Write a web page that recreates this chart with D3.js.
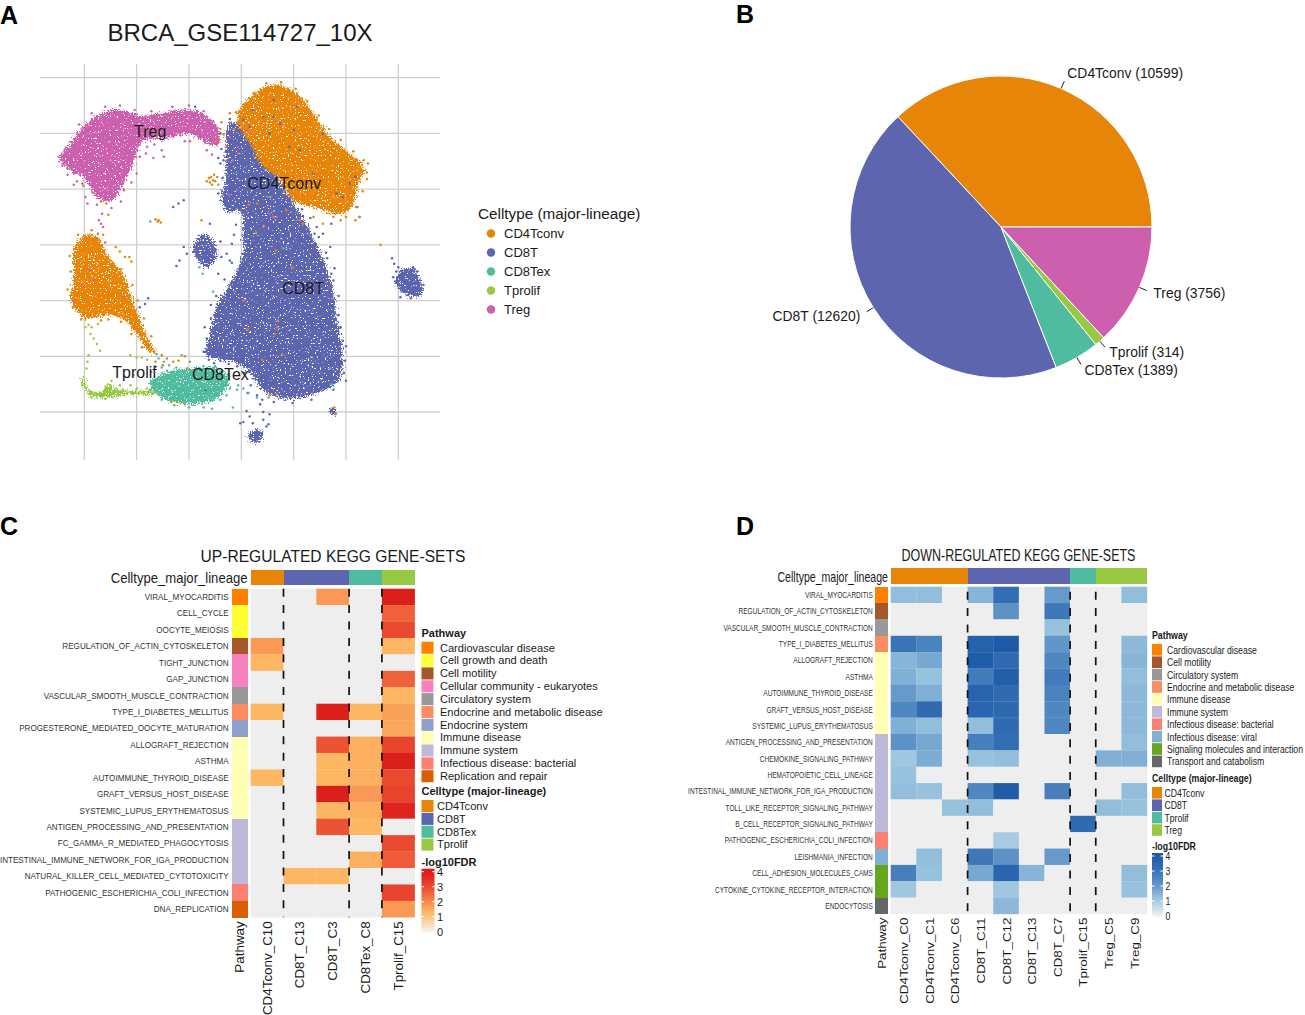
<!DOCTYPE html>
<html>
<head>
<meta charset="utf-8">
<script src="https://cdn.jsdelivr.net/npm/d3@7"></script>
<style>
html, body { margin: 0; padding: 0; background: #fff; overflow: hidden; }
svg { display: block; }
text { font-family: "Liberation Sans", Arial, sans-serif; fill: #1a1a1a; }
</style>
</head>
<body>
<svg id="fig" width="1305" height="1015">
  <defs>
    <!-- grainy look of an overplotted point cloud -->
    <filter id="grain" x="-5%" y="-5%" width="110%" height="110%" color-interpolation-filters="sRGB">
      <feTurbulence type="fractalNoise" baseFrequency="0.6" numOctaves="2" seed="4" result="n"/>
      <feDisplacementMap in="SourceGraphic" in2="n" scale="11" xChannelSelector="R" yChannelSelector="G" result="d"/>
      <feColorMatrix in="n" type="matrix" values="0 0 0 0 0  0 0 0 0 0  0 0 0 0 0  0 14 0 0 -9.1" result="holes"/>
      <feComposite in="d" in2="holes" operator="out"/>
    </filter>
  </defs>
</svg>
<script>
// celltypes
const celltypes = ['CD4Tconv', 'CD8T', 'CD8Tex', 'Tprolif', 'Treg']
const celltypeColors = ['#e68508', '#5c65ae', '#50bc9f', '#97c943', '#cc5fae']
const cellCounts = [10599, 12620, 1389, 314, 3756]

// umap: outline of each dense cloud [x, y]
const umapTicks = [-15, -10, -5, 0, 5, 10, 15]
const cd8tCloud = [[-1.1,11],[-1.5,8.2],[-1.5,6.1],[-1.9,4],[-1.2,2.9],[-.45,3.1],[.2,2.5],[.1,.4],[.3,-.2],[-.55,-2.6],[-1.5,-4.1],[-2.4,-5.6],[-3,-8],[-3.4,-9.8],[-2.35,-10.2],[.1,-10.8],[1.4,-12.2],[2.3,-13.2],[4.3,-13.8],[7.8,-13.1],[9.4,-12],[9.7,-9.8],[9.1,-6.5],[8.8,-4.1],[8,-1.7],[7,.4],[5.8,2.5],[5,3.7],[3.4,6.1],[.2,10.6]]
const cd8tBlobLeft = [[-4.6,-.2],[-3.6,1],[-2.7,.4],[-2.4,-1.1],[-3.3,-2],[-4.1,-1.4]]
const cd8tBlobRight = [[15.2,-2.3],[16.5,-2.1],[17.1,-3.2],[17.3,-4.4],[15.8,-4.5],[14.8,-3.5]]
const cd8tBlobLow = [[.7,-16.9],[1.8,-16.6],[2.1,-17.2],[1.5,-17.8],[.8,-17.5]]
const cd8tBlobMini = [[8.5,-14.6],[9.1,-14.9],[8.9,-15.3],[8.5,-15.1]]
const cd4Cloud = [[-.45,11.2],[.8,13.3],[3.2,14.4],[5.3,13.6],[6.9,11.8],[8.5,9.7],[10.4,8.2],[11.7,7],[11.2,5.5],[10.5,3.4],[9.4,2.8],[6.9,3.4],[5,4],[3.5,6.1],[2.1,7],[1,8.8],[.2,10]]
const cd4CloudLeft = [[-15.9,-.2],[-14.9,.9],[-13.7,.7],[-12.7,-1.1],[-11.3,-2.6],[-10.6,-4.4],[-10,-5.9],[-9,-8.3],[-8.1,-9.8],[-9,-9.3],[-10,-8],[-11,-6.8],[-12.5,-6.3],[-14.1,-6.5],[-15.1,-6.5],[-16.1,-5.4],[-16.3,-4.7],[-16,-2.9],[-16,-1.4]]
const tregCloud = [[-17.4,7.8],[-16.4,9.1],[-15.1,10.6],[-13.8,11.6],[-12.5,12.1],[-11.8,12.2],[-10.6,11.9],[-9.4,11.6],[-7.5,11.9],[-5.9,12.1],[-4.6,12.1],[-3.3,11.5],[-2.2,10.5],[-2.2,9],[-3.3,9.1],[-4.6,9.9],[-5.9,9.9],[-7.5,9.55],[-9.4,9.3],[-10.6,6.7],[-11.8,4.6],[-12.5,3.9],[-13.8,4.3],[-15.1,6.1],[-16.4,6.7]]
const texCloud = [[-8.7,-12.3],[-6.8,-11.3],[-4.6,-11.1],[-2.4,-11],[-1.1,-12.2],[-2.4,-13.8],[-4.9,-14.3],[-6.8,-14],[-8.1,-13.4]]
const prolifCloud = [[-15.1,-11.7],[-14.6,-12.9],[-13.5,-13.2],[-12.6,-12.5],[-12.2,-12.9],[-10.6,-13.1],[-8.4,-13.1],[-8.4,-13.4],[-10.6,-13.4],[-13.5,-13.7],[-14.6,-13.4],[-15.2,-12.3]]

// umap: single cells outside the dense clouds [x, y]
const cd8tDots = [[-5.5,-.2],[-5.2,-.8],[-5.9,-1.4],[-6.2,-1.9],[-3,1.9],[-2,.3],[-1.9,-1.1],[-1.4,-.8],[-1.1,-1.4],[-2.2,-2.6],[-6.5,3.4],[-6,3.7],[-5.5,4],[-9.2,-5.3],[-9.7,-5.6],[-8.9,-4.8],[2.7,-15.2],[.2,-15.9],[.8,-15.4],[2.1,-15],[1.8,-14.3],[.5,-14.9],[2.4,-16.3],[2.6,-16.1],[-.1,-16],[1.1,-16],[2.1,-15.7],[11,3.4],[11.3,2.5],[8.6,1.9],[7.2,1.6],[7.8,1],[8.5,-.2],[7,-.2],[8.6,-2.6],[3.1,13],[2.1,11.5],[1.1,12.1],[5,10.3],[3.7,10.9],[3.1,11.5],[2.7,10],[4.6,8.8],[5.6,8.5],[6.9,6.4],[9.1,4.6],[9.7,4.3],[10.4,5.5],[10.9,6.1],[7.8,10],[5.3,12.4],[.2,11.2],[.8,10.6],[-2,7.3],[-1.7,7.6],[-2.2,7.8],[-1.1,11.3],[-.8,10.7],[-4.4,12.4],[14.4,-1.2],[14.6,-1.7],[15,-2],[14.8,-2.4],[14.5,-2.9],[15.5,-2.6],[16.4,-2],[16.8,-2.4],[15.3,-4.1],[15.2,-4.7],[14.7,-3.3],[17.4,-3.6],[16.2,-4.8],[-3.4,-13],[-3.1,-10.3],[-2.6,-10.6],[-2,-10.4],[-1.2,-10.7],[-.4,-10.9],[.3,-11.5],[.9,-12.6],[1.5,-13.5],[.6,-13.3],[9.9,-10.4],[9.8,-11.5],[9.7,-8.6],[9.3,-6.3],[8.8,-3.2],[8.2,-1.2],[7,1],[6.6,2.4],[5.8,3.2],[-.5,1.8],[-.7,.9],[.1,-.8],[-2.9,-5.4],[-3.3,-8.4],[-3.6,-9.6],[.2,1.5],[-.1,3.4],[-.9,.1],[-.9,-1.6],[-1.6,-3.1],[-2.4,-4.6],[-2.9,-6.6],[-3.5,-7.4],[6.4,1.4],[7.4,.7],[8.1,-.7],[8.9,-2.1],[9.3,-4.6],[9.5,-7.4],[10,-9.1],[10,-12.2],[8.8,-13],[6.7,-13.9],[4.9,-14.2],[3.1,-14.1],[2,-13.9],[5.9,2.6],[4.6,4.2],[3.9,5.3],[6.1,.8],[-2,10],[-1.9,8.6],[-1.8,6],[-2.2,4.6]]
const cd4Dots = [[-3.1,6],[-2.9,6.1],[-2.7,5.8],[-2.5,5.7],[-3,5.6],[-2.8,5.4],[-2.3,6.1],[-2.6,6.3],[-3.3,5.7],[-8.2,2.3],[-7.9,2.2],[-7.7,2],[-8,2.1],[13.3,0],[-1.9,11],[-2,10.4],[-1.1,11.8],[-.5,11.9],[11.1,3.4],[11.3,2.5],[10.9,2.2],[9.5,2.2],[7.8,1.9],[5.9,1.9],[6.9,2.5],[8.8,2.5],[10,2.5],[12,6.5],[12.1,7.3],[.2,-5],[3.4,-7.4],[3.5,-6.8],[3.2,-8],[2.1,1.6],[3.1,2.5],[1.5,3.7],[5.6,2.2],[4.3,3.1],[8.9,-14.6],[9,-15.2],[3.4,-13.4],[2.7,-13.5],[-7.6,-9.9],[-7.1,-10.2],[-6.5,-10.5],[-6,-10.4],[-5.2,-11.1],[-7.5,-10.8],[-6.7,-14.1],[-6.2,-14],[-5.4,-14.3],[-8.2,-10.5],[-5.4,-10],[-10.5,-1.5],[-11.1,-1.1],[-11.6,-.6],[-10.7,-1.1],[-12,-.2],[-12.9,3.7],[-12.7,2.7],[-13.4,3.9],[-16.1,-5.6],[-15.3,-6.7],[-12.7,-6.7],[-13.4,-6.8],[-11.5,-6.9],[-3.8,2.2],[-2.2,9.5],[-1.7,9.9],[-15.1,5.3],[1.2,13.6],[2.4,14.5],[3.8,14.6],[5.2,14],[6.3,12.9],[7.4,11.6],[8.4,10.4],[9.5,9.4],[10.7,8.4],[11.7,7.6],[12,5.9],[11.6,4.8],[.2,12.6],[-.7,10.4],[-.2,12],[-12.3,-1.6],[-11.5,-2.2],[-10.4,-3.6],[-9.9,-5],[-9.3,-6.6],[-8.6,-8.2],[-8.7,-9.6],[-9.5,-9.2],[-10.5,-8],[-16.6,-4],[-16.3,-2.4],[-16.4,-1],[-15.6,.9],[-14.3,1.3],[-13.2,.9],[.7,3.6],[1.4,1.1],[3.3,-.5],[.6,-7.6],[2,-10.3],[4.9,-2],[3.9,-9.8]]
const tregDots = [[-13.3,2.8],[-13.4,1.9],[-13.2,1.6],[-13.6,2.2],[-13.7,1],[-13,.2],[-14.7,3.7],[-14.9,4.3],[-13.8,3.6],[-16,5.4],[-15.7,5.7],[-16,6.4],[-8.4,7.8],[-7.6,8.5],[-9,8.8],[-9.7,7.9],[-7.4,7.9],[-6.5,9.7],[-4.9,9.3],[-3.9,9.6],[-3.3,8.5],[-2.8,8.1],[-2.5,9.1],[-1.4,8.8],[-1.1,9.7],[-.8,7.6],[-1.2,4.5],[-.4,8.8],[-.3,8.2],[-14.5,-2.3],[-14.1,-3.2],[-15.1,-3.8],[-11.3,-4.7],[-16,-5],[.5,10.3],[2.7,2.8],[3.4,2.5],[-10,6.4],[-10.5,5.6],[-11.2,4.9],[-16.8,8.6],[-15.5,10.8],[-14.3,11.8],[-13,12.4],[-11.6,12.5],[-10.2,12.1],[-8.6,12],[-6.6,12.4],[-5,12.5],[-3.6,12],[-2.7,11.1],[-17.1,7.1],[-16.6,6.3],[-15.2,5.5],[-14.2,4.7],[-12.4,3.3],[-11.5,3.9],[-9.1,8.2],[-10.9,8.1],[-8.3,9],[-5.4,9.3]]
const prolifDots = [[-14.6,-7.2],[-14.3,-7.4],[-14.4,-8],[-14.1,-8.4],[-13.8,-8.9],[-13.5,-9.5],[-14.6,-9.9],[-14.7,-10.5],[-14.8,-11.1],[-13.7,-7.1],[-14.9,-7.4],[-10.6,-9.9],[-10,-10.1],[-9.5,-10.1],[-9,-10.3],[-10.3,-11.7],[-12.4,-12.2],[-12.5,-12.6],[-12,-12.9],[-11.6,-12.6],[-10.6,-12.6],[-10,-12.9],[-9.4,-13.2],[-12.9,-12.8],[-11.3,-13],[-9,-12.9],[-15.2,-12.6],[-14.3,-13.7],[-13,-13.8],[-8,-13.3]]
const texDots = [[-8.1,-9.8],[-7.9,-10.2],[-7.6,-11],[-7.1,-11.3],[-8.3,-10.9],[-6.2,-11],[-5.7,-9.9],[-4.9,-10.5],[-3.6,-10.9],[-2.8,-14.7],[-3.6,-14.6],[-5,-14.6],[-.8,-14.6],[-.4,-13],[.2,-12.9],[.7,-13.3],[1.5,-13.7],[-.3,-12.6],[-1.4,-13.5],[-1.1,-12.9],[2.6,-13.7],[-2.7,-4.2],[-3.7,-2.6],[-4,-2],[-2.2,5.4],[-8.7,2.1],[-16.4,6.8],[4,-.3],[8.5,-11.1],[8.6,-12.5],[2.7,4.3],[-7.4,-10.5],[-6.9,-10.8],[-8.6,-11.4],[-6.4,-14.4],[-7.6,-13.9],[-8.7,-13],[-2,-13.9],[-1.2,-11.6],[-2.5,-10.9]]
const umapLabels = [
  {name: 'Treg', x: -8.7, y: 9.65},
  {name: 'CD4Tconv', x: 4.1, y: 5.05},
  {name: 'CD8T', x: 5.9, y: -4.45},
  {name: 'Tprolif', x: -10.2, y: -11.95},
  {name: 'CD8Tex', x: -2, y: -12.15}
]

// pathway legend, one colour per KEGG class
const pathwayNames = ['Cardiovascular disease', 'Cell growth and death', 'Cell motility', 'Cellular community - eukaryotes', 'Circulatory system', 'Endocrine and metabolic disease', 'Endocrine system', 'Immune disease', 'Immune system', 'Infectious disease: bacterial', 'Infectious disease: viral', 'Replication and repair', 'Signaling molecules and interaction', 'Transport and catabolism']
const pathwayColors = ['#ff7f00', '#ffff33', '#a6562b', '#f781bf', '#999999', '#fc8d62', '#8da0cb', '#ffffb3', '#beb9da', '#fb8072', '#80b1d3', '#d95f02', '#66a61e', '#666666']

// panel C
const upColumns = ['CD4Tconv_C10', 'CD8T_C13', 'CD8T_C3', 'CD8Tex_C8', 'Tprolif_C15']
const upColumnTypes = ['CD4Tconv', 'CD8T', 'CD8T', 'CD8Tex', 'Tprolif']
const upRows = ['VIRAL_MYOCARDITIS', 'CELL_CYCLE', 'OOCYTE_MEIOSIS', 'REGULATION_OF_ACTIN_CYTOSKELETON', 'TIGHT_JUNCTION', 'GAP_JUNCTION', 'VASCULAR_SMOOTH_MUSCLE_CONTRACTION', 'TYPE_I_DIABETES_MELLITUS', 'PROGESTERONE_MEDIATED_OOCYTE_MATURATION', 'ALLOGRAFT_REJECTION', 'ASTHMA', 'AUTOIMMUNE_THYROID_DISEASE', 'GRAFT_VERSUS_HOST_DISEASE', 'SYSTEMIC_LUPUS_ERYTHEMATOSUS', 'ANTIGEN_PROCESSING_AND_PRESENTATION', 'FC_GAMMA_R_MEDIATED_PHAGOCYTOSIS', 'INTESTINAL_IMMUNE_NETWORK_FOR_IGA_PRODUCTION', 'NATURAL_KILLER_CELL_MEDIATED_CYTOTOXICITY', 'PATHOGENIC_ESCHERICHIA_COLI_INFECTION', 'DNA_REPLICATION']
const upPathways = [0, 1, 1, 2, 3, 3, 4, 5, 6, 7, 7, 7, 7, 7, 8, 8, 8, 8, 9, 11]
const upValues = [
  [0, 0, 1.7, 0, 3.9],
  [0, 0, 0, 0, 2.5],
  [0, 0, 0, 0, 3.0],
  [1.7, 0, 0, 0, 1.3],
  [1.3, 0, 0, 0, 0],
  [0, 0, 0, 0, 2.5],
  [0, 0, 0, 0, 1.3],
  [1.3, 0, 3.9, 1.3, 1.6],
  [0, 0, 0, 0, 1.5],
  [0, 0, 2.8, 1.4, 3.1],
  [0, 0, 1.3, 1.4, 3.9],
  [1.3, 0, 1.3, 1.4, 3.0],
  [0, 0, 3.9, 1.7, 3.1],
  [0, 0, 1.3, 1.4, 3.8],
  [0, 0, 2.8, 1.3, 0],
  [0, 0, 0, 0, 3.0],
  [0, 0, 0, 1.4, 2.6],
  [0, 1.3, 1.3, 0, 0],
  [0, 0, 0, 0, 3.1],
  [0, 0, 0, 0, 1.7]
]
const upLegendPathways = [0, 1, 2, 3, 4, 5, 6, 7, 8, 9, 11]
const upLegendTypes = ['CD4Tconv', 'CD8T', 'CD8Tex', 'Tprolif']

// panel D
const downColumns = ['CD4Tconv_C0', 'CD4Tconv_C1', 'CD4Tconv_C6', 'CD8T_C11', 'CD8T_C12', 'CD8T_C13', 'CD8T_C7', 'Tprolif_C15', 'Treg_C5', 'Treg_C9']
const downColumnTypes = ['CD4Tconv', 'CD4Tconv', 'CD4Tconv', 'CD8T', 'CD8T', 'CD8T', 'CD8T', 'CD8Tex', 'Tprolif', 'Tprolif']
const downRows = ['VIRAL_MYOCARDITIS', 'REGULATION_OF_ACTIN_CYTOSKELETON', 'VASCULAR_SMOOTH_MUSCLE_CONTRACTION', 'TYPE_I_DIABETES_MELLITUS', 'ALLOGRAFT_REJECTION', 'ASTHMA', 'AUTOIMMUNE_THYROID_DISEASE', 'GRAFT_VERSUS_HOST_DISEASE', 'SYSTEMIC_LUPUS_ERYTHEMATOSUS', 'ANTIGEN_PROCESSING_AND_PRESENTATION', 'CHEMOKINE_SIGNALING_PATHWAY', 'HEMATOPOIETIC_CELL_LINEAGE', 'INTESTINAL_IMMUNE_NETWORK_FOR_IGA_PRODUCTION', 'TOLL_LIKE_RECEPTOR_SIGNALING_PATHWAY', 'B_CELL_RECEPTOR_SIGNALING_PATHWAY', 'PATHOGENIC_ESCHERICHIA_COLI_INFECTION', 'LEISHMANIA_INFECTION', 'CELL_ADHESION_MOLECULES_CAMS', 'CYTOKINE_CYTOKINE_RECEPTOR_INTERACTION', 'ENDOCYTOSIS']
const downPathways = [0, 2, 4, 5, 7, 7, 7, 7, 7, 8, 8, 8, 8, 8, 8, 9, 10, 12, 12, 13]
const downValues = [
  [1.1, 1.1, 0, 1.3, 3.1, 0, 1.9, 0, 0, 1.1],
  [0, 0, 0, 0, 2.1, 0, 2.8, 0, 0, 0],
  [0, 0, 0, 0, 0, 0, 1.0, 0, 0, 0],
  [2.9, 2.5, 0, 3.6, 3.9, 0, 2.0, 0, 0, 1.2],
  [1.3, 1.6, 0, 3.8, 3.2, 0, 2.4, 0, 0, 1.3],
  [1.4, 1.0, 0, 2.7, 3.7, 0, 2.7, 0, 0, 1.1],
  [1.9, 1.4, 0, 3.5, 3.2, 0, 2.5, 0, 0, 1.2],
  [2.4, 3.2, 0, 3.4, 3.3, 0, 2.4, 0, 0, 1.2],
  [1.4, 1.1, 0, 1.1, 3.2, 0, 2.4, 0, 0, 1.2],
  [2.1, 1.6, 0, 2.6, 3.1, 0, 0, 0, 0, 1.1],
  [0.9, 1.5, 0, 1.0, 1.1, 0, 0, 0, 1.4, 1.4],
  [1.0, 0, 0, 0, 0, 0, 0, 0, 0, 0],
  [1.1, 1.0, 0, 2.4, 3.8, 0, 2.6, 0, 0, 1.1],
  [0, 0, 1.0, 1.1, 0, 0, 0, 0, 1.1, 1.0],
  [0, 0, 0, 0, 0, 0, 0, 3.2, 0, 0],
  [0, 0, 0, 0, 0.8, 0, 0, 0, 0, 0],
  [0, 1.1, 0, 2.8, 2.1, 0, 1.9, 0, 0, 0],
  [2.6, 1.0, 0, 1.6, 3.4, 1.3, 0, 0, 0, 1.1],
  [0.9, 0, 0, 0, 0.9, 0, 0, 0, 0, 1.0],
  [0, 0, 0, 0, 1.2, 0, 0, 0, 0, 0]
]
const downLegendPathways = [0, 2, 4, 5, 7, 8, 9, 10, 12, 13]
const downLegendTypes = ['CD4Tconv', 'CD8T', 'Tprolif', 'Treg']
const downLegendColors = ['#e68508', '#5c65ae', '#50bc9f', '#97c943']

const fdrTicks = [0, 1, 2, 3, 4]

const svg = d3.select('#fig')
const typeColor = d3.scaleOrdinal(celltypes, celltypeColors)

function addText(parent, x, y, str, size, opts = {}) {
  const sx = opts.squeeze || 1
  return parent.append('text')
    .attr('transform', opts.rotate
      ? `translate(${x},${y}) rotate(-90) scale(1,${sx})`
      : `translate(${x},${y}) scale(${sx},1)`)
    .attr('text-anchor', opts.anchor || 'start')
    .attr('font-size', size)
    .attr('font-weight', opts.weight || 'normal')
    .text(str)
}

// panel letters
const panelLetters = [['A', 0, 24], ['B', 736, 23], ['C', 0, 535], ['D', 736, 535]]
panelLetters.forEach(d => addText(svg, d[1], d[2], d[0], 25, {weight: 'bold'}).style('fill', '#000'))

// ---------- A: umap ----------
const ux = d3.scaleLinear().domain([-15, 15]).range([84.3, 398.3])
const uy = d3.scaleLinear().domain([15, -15]).range([77.7, 412])
const umap = svg.append('g')

addText(svg, 240, 41, 'BRCA_GSE114727_10X', 24, {anchor: 'middle'})

umap.selectAll('.vgrid').data(umapTicks).enter().append('line')
  .attr('x1', d => ux(d)).attr('x2', d => ux(d)).attr('y1', 64).attr('y2', 460)
  .attr('stroke', '#cfcfcf').attr('stroke-width', 1.3)
umap.selectAll('.hgrid').data(umapTicks).enter().append('line')
  .attr('y1', d => uy(d)).attr('y2', d => uy(d)).attr('x1', 40).attr('x2', 440)
  .attr('stroke', '#cfcfcf').attr('stroke-width', 1.3)

const cloudLine = d3.line().x(d => ux(d[0])).y(d => uy(d[1])).curve(d3.curveCatmullRomClosed)
const clouds = [
  [cd8tCloud, 'CD8T'], [cd8tBlobLeft, 'CD8T'], [cd8tBlobRight, 'CD8T'], [cd8tBlobLow, 'CD8T'], [cd8tBlobMini, 'CD8T'],
  [cd4Cloud, 'CD4Tconv'], [cd4CloudLeft, 'CD4Tconv'], [tregCloud, 'Treg'], [prolifCloud, 'Tprolif'], [texCloud, 'CD8Tex']
]
umap.append('g').attr('filter', 'url(#grain)')
  .selectAll('path').data(clouds).enter().append('path')
  .attr('d', d => cloudLine(d[0]))
  .attr('fill', d => typeColor(d[1]))

const cellDots = [[cd8tDots, 'CD8T'], [cd4Dots, 'CD4Tconv'], [tregDots, 'Treg'], [prolifDots, 'Tprolif'], [texDots, 'CD8Tex']]
cellDots.forEach(set => {
  umap.selectAll(null).data(set[0]).enter().append('circle')
    .attr('cx', d => ux(d[0])).attr('cy', d => uy(d[1])).attr('r', 1.25)
    .attr('fill', typeColor(set[1]))
})
umapLabels.forEach(d => addText(umap, ux(d.x), uy(d.y), d.name, 16, {anchor: 'middle'}))

addText(svg, 478, 219, 'Celltype (major-lineage)', 15.3)
celltypes.forEach((name, i) => {
  svg.append('circle').attr('cx', 491).attr('cy', 233.5 + i * 19).attr('r', 4.2).attr('fill', celltypeColors[i])
  addText(svg, 504, 238 + i * 19, name, 13)
})

// ---------- B: pie ----------
const pieR = 151
const pieG = svg.append('g').attr('transform', 'translate(1001,227)')
const pie = d3.pie().sort(null).startAngle(Math.PI / 2).endAngle(Math.PI / 2 - 2 * Math.PI)
const arcPath = d3.arc().innerRadius(0).outerRadius(pieR)
const pieData = pie(cellCounts)
pieG.selectAll('path').data(pieData).enter().append('path')
  .attr('d', arcPath)
  .attr('fill', (d, i) => celltypeColors[i])
  .attr('stroke', '#fff').attr('stroke-width', 1)
const pieNudge = [[1, -3], [-2, 1.5], [1, 0], [1, 0], [2, 1]]
pieData.forEach((d, i) => {
  const a = (d.startAngle + d.endAngle) / 2
  const sx = Math.sin(a), sy = -Math.cos(a)
  pieG.append('line')
    .attr('x1', sx * pieR).attr('y1', sy * pieR)
    .attr('x2', sx * (pieR + 8)).attr('y2', sy * (pieR + 8))
    .attr('stroke', '#222').attr('stroke-width', 1)
  addText(pieG, sx * (pieR + 13) + pieNudge[i][0], sy * (pieR + 13) + 4.5 + pieNudge[i][1] + (i === 2 || i === 3 ? 2 : 0),
    `${celltypes[i]} (${cellCounts[i]})`, 13.9, {anchor: sx > 0 ? 'start' : 'end'})
})

// ---------- C / D: heatmaps ----------
function drawHeatmap(cfg) {
  const g = svg.append('g')
  const sq = cfg.squeeze
  const x = d3.scaleBand().domain(cfg.columns).range(cfg.xRange)
  const y = d3.scaleBand().domain(cfg.rows).range(cfg.yRange)

  addText(g, cfg.titleX, cfg.titleY, cfg.title, 15.6, {anchor: 'middle', squeeze: sq})
  addText(g, cfg.annoLabelX, cfg.annoY[1] - 2.5, 'Celltype_major_lineage', 14.4, {anchor: 'end', squeeze: cfg.rowSqueeze})

  // column annotation
  g.selectAll('.anno').data(cfg.columns).enter().append('rect')
    .attr('x', d => x(d)).attr('width', x.bandwidth() + 0.3)
    .attr('y', cfg.annoY[0]).attr('height', cfg.annoY[1] - cfg.annoY[0])
    .attr('shape-rendering', 'crispEdges')
    .attr('fill', (d, i) => cfg.annoColor(cfg.columnTypes[i]))

  // pathway strip
  g.selectAll('.strip').data(cfg.rows).enter().append('rect')
    .attr('x', cfg.stripX[0]).attr('width', cfg.stripX[1] - cfg.stripX[0])
    .attr('y', d => y(d)).attr('height', y.bandwidth() + 0.3)
    .attr('shape-rendering', 'crispEdges')
    .attr('fill', (d, i) => pathwayColors[cfg.pathways[i]])

  // cells
  const cells = cfg.values.flatMap((row, r) => row.map((v, c) => ({r, c, v})))
  g.selectAll('.cell').data(cells).enter().append('rect')
    .attr('x', d => x(cfg.columns[d.c])).attr('y', d => y(cfg.rows[d.r]))
    .attr('width', x.bandwidth() + 0.2).attr('height', y.bandwidth() + 0.2)
    .attr('fill', d => cfg.color(d.v))

  // row names
  cfg.rows.forEach(name => {
    addText(g, cfg.rowLabelX, y(name) + y.bandwidth() / 2 + 3.1, name, cfg.rowFont, {anchor: 'end', squeeze: cfg.rowSqueeze}).style('fill', '#333')
  })

  // column names
  const colTop = cfg.yRange[1] + cfg.colGap
  addText(g, (cfg.stripX[0] + cfg.stripX[1]) / 2 + 4.5, colTop, 'Pathway', 13.4, {anchor: 'end', rotate: true, squeeze: sq})
  cfg.columns.forEach(name => {
    addText(g, x(name) + x.bandwidth() / 2 + 4.5, colTop, name, 13.4, {anchor: 'end', rotate: true, squeeze: sq})
  })

  // splits between groups
  cfg.splits.forEach(name => {
    g.append('line')
      .attr('x1', x(name)).attr('x2', x(name))
      .attr('y1', cfg.yRange[0] + cfg.dashStart).attr('y2', cfg.yRange[1])
      .attr('stroke', '#111').attr('stroke-width', 1.7)
      .attr('stroke-dasharray', '8,8.4')
  })

  // legends
  const lg = cfg.legend
  addText(g, lg.x, lg.pathwayY, 'Pathway', 11, {weight: 'bold', squeeze: sq})
  lg.pathways.forEach((p, i) => {
    g.append('rect').attr('x', lg.x).attr('y', lg.pathwayY + 5 + i * lg.step)
      .attr('width', lg.swatch).attr('height', lg.step - 0.8).attr('fill', pathwayColors[p])
    addText(g, lg.x + lg.textPathway, lg.pathwayY + 14.8 + i * lg.step, pathwayNames[p], lg.font, {squeeze: lg.squeeze})
  })
  addText(g, lg.x, lg.typeY, 'Celltype (major-lineage)', 11, {weight: 'bold', squeeze: sq})
  lg.types.forEach((t, i) => {
    g.append('rect').attr('x', lg.x).attr('y', lg.typeY + 5 + i * lg.step)
      .attr('width', lg.swatch).attr('height', lg.step - 0.8).attr('fill', lg.typeColors[i])
    addText(g, lg.x + lg.textType, lg.typeY + 14.8 + i * lg.step, t, lg.font, {squeeze: lg.squeeze})
  })
  addText(g, lg.x, lg.fdrY, '-log10FDR', 11, {weight: 'bold', squeeze: sq})

  // colour bar
  const barY = d3.scaleLinear().domain([0, 4]).range([lg.fdrY + 66, lg.fdrY + 6])
  const gradId = cfg.id + '-grad'
  const grad = svg.append('defs').append('linearGradient').attr('id', gradId)
    .attr('x1', 0).attr('x2', 0).attr('y1', 1).attr('y2', 0)
  d3.range(0, 4.01, 0.25).forEach(v => {
    grad.append('stop').attr('offset', v / 4).attr('stop-color', cfg.barColor(v))
  })
  g.append('rect').attr('x', lg.x).attr('width', lg.swatch + 1)
    .attr('y', barY(4) - 3).attr('height', barY(0) - barY(4) + 4)
    .attr('fill', `url(#${gradId})`)
  fdrTicks.forEach(v => {
    g.append('line').attr('x1', lg.x).attr('x2', lg.x + 2.5).attr('y1', barY(v)).attr('y2', barY(v)).attr('stroke', '#fff')
    g.append('line').attr('x1', lg.x + lg.swatch - 1.5).attr('x2', lg.x + lg.swatch + 1).attr('y1', barY(v)).attr('y2', barY(v)).attr('stroke', '#fff')
    addText(g, lg.x + lg.swatch + 3.5, barY(v) + 4, v, lg.font, {squeeze: lg.squeeze})
  })
}

const upColor = d3.scaleLinear().domain([0, 0.02, 1.3, 2.5, 4]).range(['#eeeeee', '#eeeeee', '#fdb662', '#f0603a', '#dc1a1a']).clamp(true)
const upBar = d3.scaleLinear().domain([0, 1.3, 2.5, 3.6, 4]).range(['#f4f4f4', '#fdb662', '#f0603a', '#e02020', '#dc1a1a'])
const downColor = d3.scaleLinear().domain([0, 0.02, 1, 2, 3, 4]).range(['#eeeeee', '#eeeeee', '#97c2de', '#6196c9', '#3570b5', '#1a58a5']).clamp(true)
const downBar = d3.scaleLinear().domain([0, 1, 2, 3, 4]).range(['#f4f4f4', '#a5cbe2', '#6196c9', '#3570b5', '#1a58a5'])

drawHeatmap({
  id: 'up', title: 'UP-REGULATED KEGG GENE-SETS', squeeze: 1, rowSqueeze: 0.91, colGap: 4, dashStart: 0,
  titleX: 333, titleY: 562, annoLabelX: 247.5, annoY: [570, 585],
  columns: upColumns, columnTypes: upColumnTypes, rows: upRows, pathways: upPathways, values: upValues,
  xRange: [250.7, 414.7], yRange: [588.7, 917.3], stripX: [231.7, 247.7], rowLabelX: 228.7, rowFont: 8.9,
  splits: ['CD8T_C13', 'CD8Tex_C8', 'Tprolif_C15'],
  color: upColor, barColor: upBar, annoColor: typeColor,
  legend: {x: 421.5, pathwayY: 636.7, typeY: 795, fdrY: 865.7, step: 12.85, swatch: 12, textPathway: 18.5, textType: 15.5, font: 11.05, squeeze: 1,
    pathways: upLegendPathways, types: upLegendTypes, typeColors: celltypeColors}
})

drawHeatmap({
  id: 'down', title: 'DOWN-REGULATED KEGG GENE-SETS', squeeze: 0.8, rowSqueeze: 0.735, colGap: 3.5, dashStart: 5,
  titleX: 1018.5, titleY: 561, annoLabelX: 888, annoY: [568.3, 584.3],
  columns: downColumns, columnTypes: downColumnTypes, rows: downRows, pathways: downPathways, values: downValues,
  xRange: [890.7, 1147], yRange: [586.7, 914], stripX: [875.3, 888.3], rowLabelX: 872.8, rowFont: 8.9,
  splits: ['CD8T_C11', 'Tprolif_C15', 'Treg_C5'],
  color: downColor, barColor: downBar, annoColor: d3.scaleOrdinal(['CD4Tconv', 'CD8T', 'CD8Tex', 'Tprolif'], downLegendColors),
  legend: {x: 1152, pathwayY: 639, typeY: 782, fdrY: 850, step: 12.4, swatch: 10, textPathway: 15, textType: 12.5, font: 11.1, squeeze: 0.78,
    pathways: downLegendPathways, types: downLegendTypes, typeColors: downLegendColors}
})
</script>
</body>
</html>
